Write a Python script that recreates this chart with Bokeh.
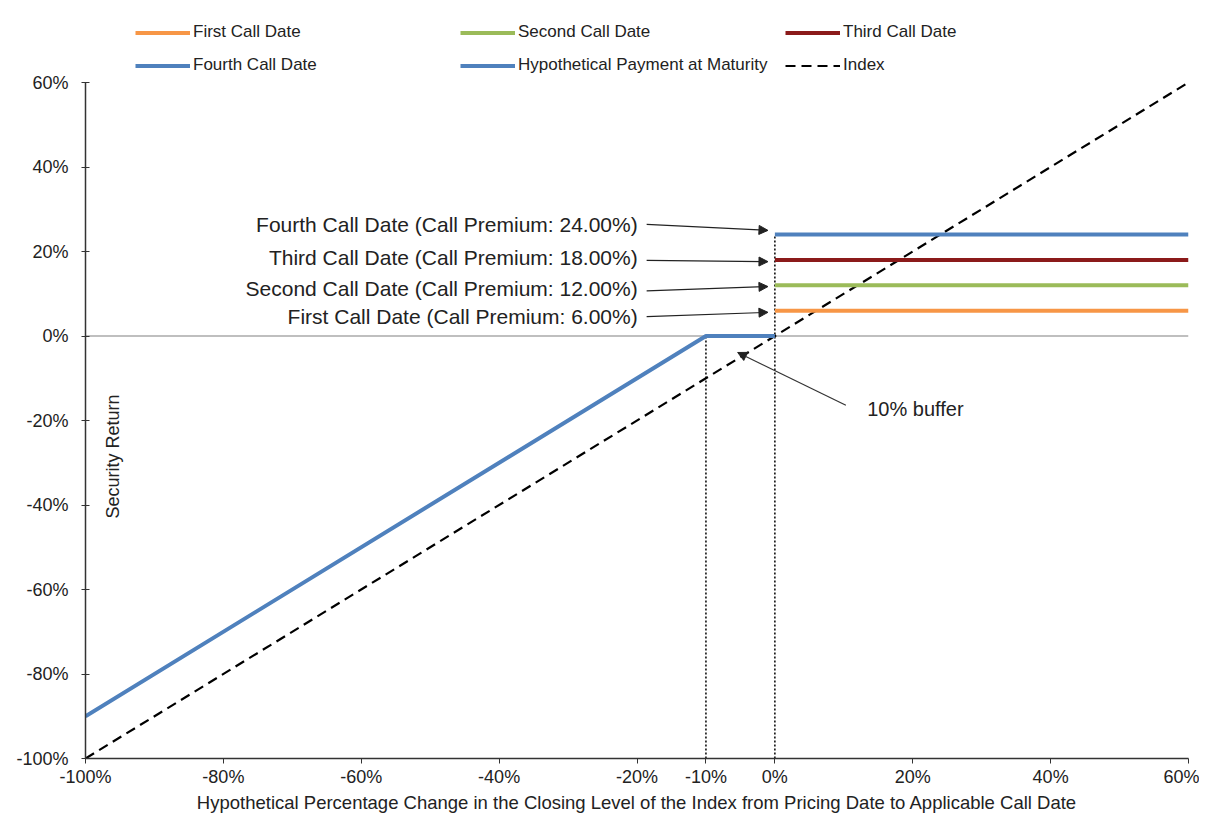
import math
from bokeh.plotting import figure
from bokeh.models import (Legend, LegendItem, FixedTicker, PrintfTickFormatter, Label,
                          Arrow, NormalHead, Span, Range1d)
from bokeh.embed import file_html
from bokeh.resources import INLINE

# ---------------- data (percent) ----------------
payment_x = [-100, -10, 0]
payment_y = [-90, 0, 0]
index_x = [-100, 60]
index_y = [-100, 60]
call_x = [0, 60]
call_names = ["First Call Date", "Second Call Date", "Third Call Date", "Fourth Call Date"]
call_premiums = [6, 12, 18, 24]
call_colors = ["#F79646", "#9BBB59", "#8B1A1A", "#4F81BD"]
payment_color = "#4F81BD"

x_ticks = [-100, -80, -60, -40, -20, -10, 0, 20, 40, 60]
y_ticks = [-100, -80, -60, -40, -20, 0, 20, 40, 60]

ann_texts = ["First Call Date (Call Premium: 6.00%)",
             "Second Call Date (Call Premium: 12.00%)",
             "Third Call Date (Call Premium: 18.00%)",
             "Fourth Call Date (Call Premium: 24.00%)"]
ann_text_y = [4.6, 11.2, 18.6, 26.4]
ann_text_x = -19.9
arrow_start = [(-18.6, 4.6), (-18.6, 10.7), (-18.6, 17.9), (-18.6, 26.4)]
arrow_end = [(-1.0, 5.6), (-1.0, 11.7), (-1.0, 17.6), (-1.0, 25.0)]
buffer_text = "10% buffer"
buffer_text_pos = (13.4, -17.2)
buffer_arrow = [(10.3, -16.4), (-5.4, -3.9)]

FONT = "Liberation Sans"

# layout: frame extended upward to host the legend; y axis itself bounded to [-100, 60]
W, H = 1199, 815
B_LEFT, B_RIGHT, B_TOP, B_BOTTOM = 85, 11, 10, 57
frame_h = H - B_TOP - B_BOTTOM
px_per_unit = 676 / 160.0
y_top = -100 + frame_h / px_per_unit

p = figure(width=W, height=H, output_backend="svg", toolbar_location=None,
           x_range=Range1d(-100, 60), y_range=Range1d(-100, y_top),
           min_border_left=B_LEFT, min_border_right=B_RIGHT, min_border_top=B_TOP,
           min_border_bottom=B_BOTTOM)
p.outline_line_color = None
p.xgrid.visible = False
p.ygrid.visible = False
p.background_fill_color = "white"

# zero line (under the data lines)
p.add_layout(Span(location=0, dimension="width", line_color="#808080", line_width=1.2,
                  level="underlay"))

# dotted verticals
p.segment(x0=[-10, 0], y0=[-100, -100], x1=[-10, 0], y1=[0, 24],
          line_color="black", line_width=1.5, line_dash="2 2")

# lines
r_index = p.line(index_x, index_y, line_color="black", line_width=2.2, line_dash="10 6")
r_pay = p.line(payment_x, payment_y, line_color=payment_color, line_width=4)
call_renderers = []
for name, prem, col in zip(call_names, call_premiums, call_colors):
    r = p.line(call_x, [prem, prem], line_color=col, line_width=4)
    call_renderers.append(r)

# annotations
for t, ty in zip(ann_texts, ann_text_y):
    p.add_layout(Label(x=ann_text_x, y=ty, text=t, text_align="right", text_baseline="middle",
                       text_font=FONT, text_font_size="21px", text_color="#222222"))
for (x0, y0), (x1, y1) in zip(arrow_start, arrow_end):
    p.add_layout(Arrow(x_start=x0, y_start=y0, x_end=x1, y_end=y1, line_color="#222222",
                       line_width=1.2,
                       end=NormalHead(size=9, fill_color="#222222", line_color="#222222")))
p.add_layout(Label(x=buffer_text_pos[0], y=buffer_text_pos[1], text=buffer_text,
                   text_align="left", text_baseline="middle", text_font=FONT,
                   text_font_size="20px", text_color="#222222"))
p.add_layout(Arrow(x_start=buffer_arrow[0][0], y_start=buffer_arrow[0][1],
                   x_end=buffer_arrow[1][0], y_end=buffer_arrow[1][1], line_color="#333333",
                   line_width=1.2,
                   end=NormalHead(size=9, fill_color="#222222", line_color="#222222")))

p.add_layout(Label(x=-96, y=-28.5, text="Security Return", angle=math.pi / 2,
                   text_align="center", text_baseline="middle", text_font=FONT,
                   text_font_size="18px", text_color="#222222"))

# axes
p.xaxis.ticker = FixedTicker(ticks=x_ticks)
p.yaxis.ticker = FixedTicker(ticks=y_ticks)
p.yaxis.bounds = (-100, 60)
p.xaxis.formatter = PrintfTickFormatter(format="%d%%")
p.yaxis.formatter = PrintfTickFormatter(format="%d%%")
for ax in (p.xaxis[0], p.yaxis[0]):
    ax.minor_tick_line_color = None
    ax.major_label_text_font = FONT
    ax.major_label_text_font_size = "18px"
    ax.major_label_text_color = "#222222"
    ax.axis_line_color = "#333333"
    ax.major_tick_line_color = "#333333"
    ax.axis_line_width = 1.5
p.yaxis.major_tick_in = 4
p.yaxis.major_tick_out = 4
p.xaxis.major_tick_in = 0
p.xaxis.major_tick_out = 5
p.yaxis.major_label_standoff = 13
p.xaxis.major_label_standoff = 3
p.xaxis.axis_label = "Hypothetical Percentage Change in the Closing Level of the Index from Pricing Date to Applicable Call Date"
p.xaxis.axis_label_text_font = FONT
p.xaxis.axis_label_text_font_size = "18.5px"
p.xaxis.axis_label_text_font_style = "normal"
p.xaxis.axis_label_text_color = "#222222"
p.xaxis.axis_label_standoff = 2

# legend (column-major fill: order so rows read First/Second/Third, Fourth/Payment/Index)
items = [
    LegendItem(label=call_names[0], renderers=[call_renderers[0]]),
    LegendItem(label=call_names[3], renderers=[call_renderers[3]]),
    LegendItem(label=call_names[1], renderers=[call_renderers[1]]),
    LegendItem(label="Hypothetical Payment at Maturity", renderers=[r_pay]),
    LegendItem(label=call_names[2], renderers=[call_renderers[2]]),
    LegendItem(label="Index", renderers=[r_index]),
]
legend_h = 23 * 2 + 10
legend = Legend(items=items, ncols=3, location=(50, frame_h - 10.5 - legend_h), padding=0, margin=0,
                border_line_color=None, background_fill_alpha=0,
                glyph_width=55, glyph_height=23, label_height=23, label_width=257,
                label_standoff=3, spacing=10,
                label_text_font=FONT, label_text_font_size="17px", label_text_color="#222222")
p.add_layout(legend, "center")

open("out.html", "w").write(file_html(p, INLINE))
